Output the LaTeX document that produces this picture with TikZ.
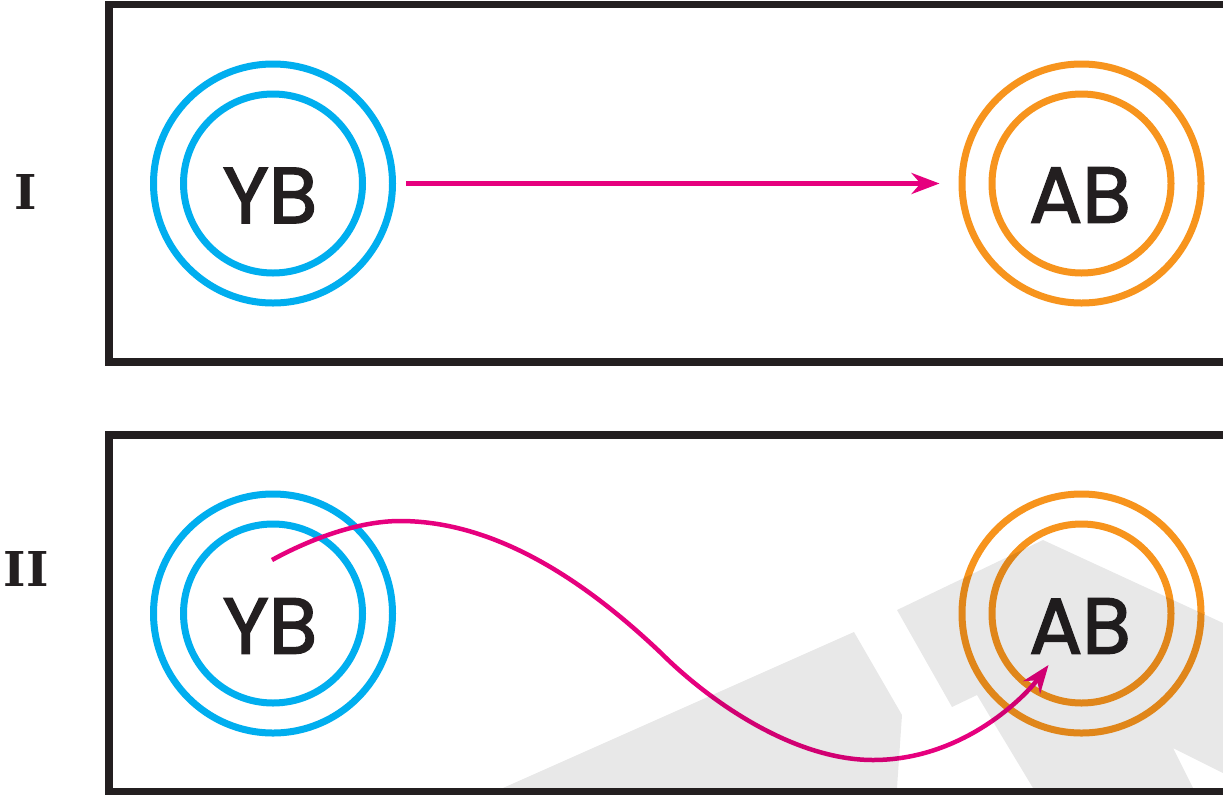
\documentclass[tikz,border=0pt]{standalone}
\usepackage{fontspec}
\setmainfont{Poppins}
\newfontfamily\lblfont[FakeBold=2]{Poppins}
\newfontfamily\numfont{DejaVu Serif}
\usetikzlibrary{arrows.meta}
\definecolor{ybblue}{HTML}{00AEEF}
\definecolor{aborange}{HTML}{F7941D}
\definecolor{arrmag}{HTML}{E6007E}
\definecolor{ink}{HTML}{231F20}
\begin{document}
\begin{tikzpicture}[x=1pt,y=-1pt,
  panel/.style={draw=ink,line width=7.3pt},
  ringout/.style={circle,draw,line width=7pt,minimum size=239pt,inner sep=0pt},
  ringin/.style={circle,draw,line width=7pt,minimum size=179pt,inner sep=0pt},
  lbl/.style={inner sep=0pt,text=ink,font=\lblfont\fontsize{79}{79}\selectfont},
  num/.style={inner sep=0pt,text=ink,font=\numfont\bfseries\fontsize{48}{48}\selectfont},
  arr/.style={draw=arrmag,line width=4.5pt,-{Stealth[length=28pt,width=21pt,inset=9pt]}},
  wm/.style={fill=black,fill opacity=0.09}]
\useasboundingbox (0,0) rectangle (1223,796);
\clip (0,0) rectangle (1223,796);
\fill[white] (0,0) rectangle (1223,796);
% panels
\draw[panel] (109,4.7) rectangle (1260,362);
\draw[panel] (109,435) rectangle (1260,791.5);
% panel labels
\node[num] (n1) at (26,191.5) {I};
\node[num] (n2) at (26,569) {II};
% panel I
\node[ringout,draw=ybblue] (yb1o) at (273,183.5) {};
\node[ringin,draw=ybblue] (yb1i) at (273,183.5) {};
\node[lbl] (yb1t) at (270,195.5) {YB};
\node[ringout,draw=aborange] (ab1o) at (1081.5,183.5) {};
\node[ringin,draw=aborange] (ab1i) at (1081.5,183.5) {};
\node[lbl] (ab1t) at (1080,195) {AB};
\draw[arr,shorten <=10pt,shorten >=19pt] (yb1o) -- (ab1o);
% panel II
\node[ringout,draw=ybblue] (yb2o) at (273,613.5) {};
\node[ringin,draw=ybblue] (yb2i) at (273,613.5) {};
\node[lbl] (yb2t) at (270,626) {YB};
\node[ringout,draw=aborange] (ab2o) at (1081.5,613.5) {};
\node[ringin,draw=aborange] (ab2i) at (1081.5,613.5) {};
\node[lbl] (ab2t) at (1080,626) {AB};
\coordinate (c2s) at (272,560);
\coordinate (c2e) at (1048.5,665);
\draw[arr] (c2s) .. controls (312,538) and (360,521) .. (400,521)
  .. controls (500,521) and (591,586.5) .. (661,653)
  .. controls (708.5,700.5) and (793,760) .. (873,760)
  .. controls (963,760) and (1024.5,697) .. (c2e);
% watermark
\fill[wm] (503,788) -- (854,632) -- (902,715) -- (897,788) -- cycle;
\fill[wm] (897,610) -- (1043,540) -- (1223,623) -- (1223,773) -- (1173,748) -- (1193,788) -- (1033,788) -- (977,695) -- (952,707) -- cycle;
\end{tikzpicture}
\end{document}
